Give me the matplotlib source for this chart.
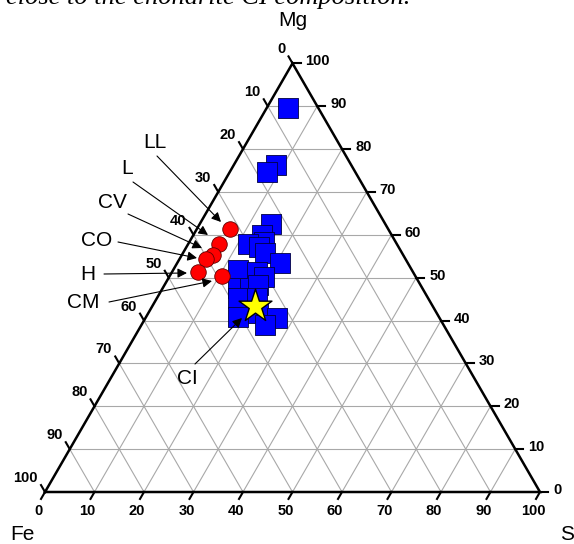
import matplotlib
matplotlib.use('Agg')
import matplotlib.pyplot as plt
import numpy as np

plt.rcParams['font.family'] = ['Liberation Sans', 'DejaVu Sans']

# compositions in percent (S, Mg); Fe = 100 - S - Mg
blue_s = [4.3, 8.6, 7.5, 14.4, 13.9, 15.1, 12.1, 14.7, 16.6, 20.8, 13.1, 17.2,
          19.2, 15.2, 17.6, 18.9, 16.4, 20.2, 18.6, 22.2, 26.6, 25.0]
blue_mg = [89.5, 76.2, 74.6, 62.5, 59.9, 58.3, 57.8, 57.1, 55.7, 53.4, 51.7, 51.3,
           50.1, 47.6, 47.6, 48.3, 45.2, 45.2, 40.8, 41.7, 40.6, 38.9]
red_s = [6.7, 6.2, 6.3, 5.4, 5.3, 10.6]
red_mg = [61.3, 57.8, 55.2, 54.3, 51.3, 50.3]
ci_s = [20.7]
ci_mg = [43.4]
chondrite_names = ['LL', 'L', 'CV', 'CO', 'H', 'CM', 'CI']
tick_vals = list(range(0, 101, 10))

H = np.sqrt(3) / 2


def tern(s, m):
    s = np.asarray(s) / 100.0
    m = np.asarray(m) / 100.0
    return s + m / 2, m * H


# layout helper: picture pixel -> data coords
def px(x, y):
    return (x - 45) / 495.0, (492 - y) / 495.0


fig = plt.figure(figsize=(5.74, 5.44), dpi=100)
ax = fig.add_axes([0, 0, 1, 1])
ax.set_xlim(-45 / 495.0, (574 - 45) / 495.0)
ax.set_ylim(-52 / 495.0, 492 / 495.0)
ax.axis('off')

# grid
gc = '#a8a8a8'
for v in tick_vals[1:-1]:
    # constant Mg
    x0, y0 = tern(0, v)
    x1, y1 = tern(100 - v, v)
    ax.plot([x0, x1], [y0, y1], color=gc, lw=0.8, zorder=1)
    # constant S
    x0, y0 = tern(v, 0)
    x1, y1 = tern(v, 100 - v)
    ax.plot([x0, x1], [y0, y1], color=gc, lw=0.8, zorder=1)
    # constant Fe
    x0, y0 = tern(100 - v, 0)
    x1, y1 = tern(0, 100 - v)
    ax.plot([x0, x1], [y0, y1], color=gc, lw=0.8, zorder=1)

# triangle
tx = [0, 1, 0.5, 0]
ty = [0, 0, H, 0]
ax.plot(tx, ty, color='black', lw=1.8, zorder=2, solid_joinstyle='miter')

tl = 8 / 495.0
tfont = dict(fontsize=10.5, fontweight='bold')
for v in tick_vals:
    # bottom: S
    x, y = tern(v, 0)
    ax.plot([x, x - 0.5 * tl], [y, y - H * tl], color='black', lw=1.5, zorder=2)
    ax.text(x - 7 / 495.0, y - 19 / 495.0, str(v), ha='center', va='center', **tfont)
    # right: Mg
    x, y = tern(100 - v, v)
    ax.plot([x, x + tl], [y, y], color='black', lw=1.5, zorder=2)
    ax.text(x + 13 / 495.0, y + 2 / 495.0, str(v), ha='left', va='center', **tfont)
    # left: Fe
    x, y = tern(0, 100 - v)
    ax.plot([x, x - 0.5 * tl], [y, y + H * tl], color='black', lw=1.5, zorder=2)
    ax.text(x - 7 / 495.0, y + 14 / 495.0, str(v), ha='right', va='center', **tfont)

# data
bx, by = tern(blue_s, blue_mg)
ax.scatter(bx, by, marker='s', s=200, color='#0000ff', edgecolor='#000040', linewidth=0.6, zorder=4)
rx, ry = tern(red_s, red_mg)
ax.scatter(rx, ry, marker='o', s=125, color='#ff0000', edgecolor='#600000', linewidth=0.6, zorder=5)
cx, cy = tern(ci_s, ci_mg)
ax.scatter(cx, cy, marker='*', s=620, color='#ffff00', edgecolor='black', linewidth=1.0, zorder=6)

# labels with arrows
text_pos = [(155, 143), (127, 169), (112, 203), (97, 240), (88, 275), (83, 303), (187, 378)]
line_start = [(157, 156), (133, 182), (128, 214), (118, 242), (104, 274), (109, 302), (195, 364)]
line_end = [(221, 222), (208, 235), (202, 248), (197, 258), (187, 273), (212, 281), (242, 318)]
for name, tp, ls, le in zip(chondrite_names, text_pos, line_start, line_end):
    ax.text(*px(*tp), name, fontsize=15, ha='center', va='center')
    ax.annotate('', xy=px(*le), xytext=px(*ls),
                arrowprops=dict(arrowstyle='-|>', color='black', lw=0.8,
                                mutation_scale=14, shrinkA=0, shrinkB=0), zorder=7)

# axis names
ax.text(*px(293, 20), 'Mg', fontsize=15, ha='center', va='center')
ax.text(*px(22, 534), 'Fe', fontsize=15, ha='center', va='center')
ax.text(*px(567, 534), 'S', fontsize=15, ha='center', va='center')

# clipped caption line from the page above
ax.text(*px(6, 4), 'close to the chondrite CI composition.', fontsize=19,
        family=['Liberation Serif', 'DejaVu Serif'], style='italic',
        ha='left', va='baseline')

fig.savefig('out.png', dpi=100)
